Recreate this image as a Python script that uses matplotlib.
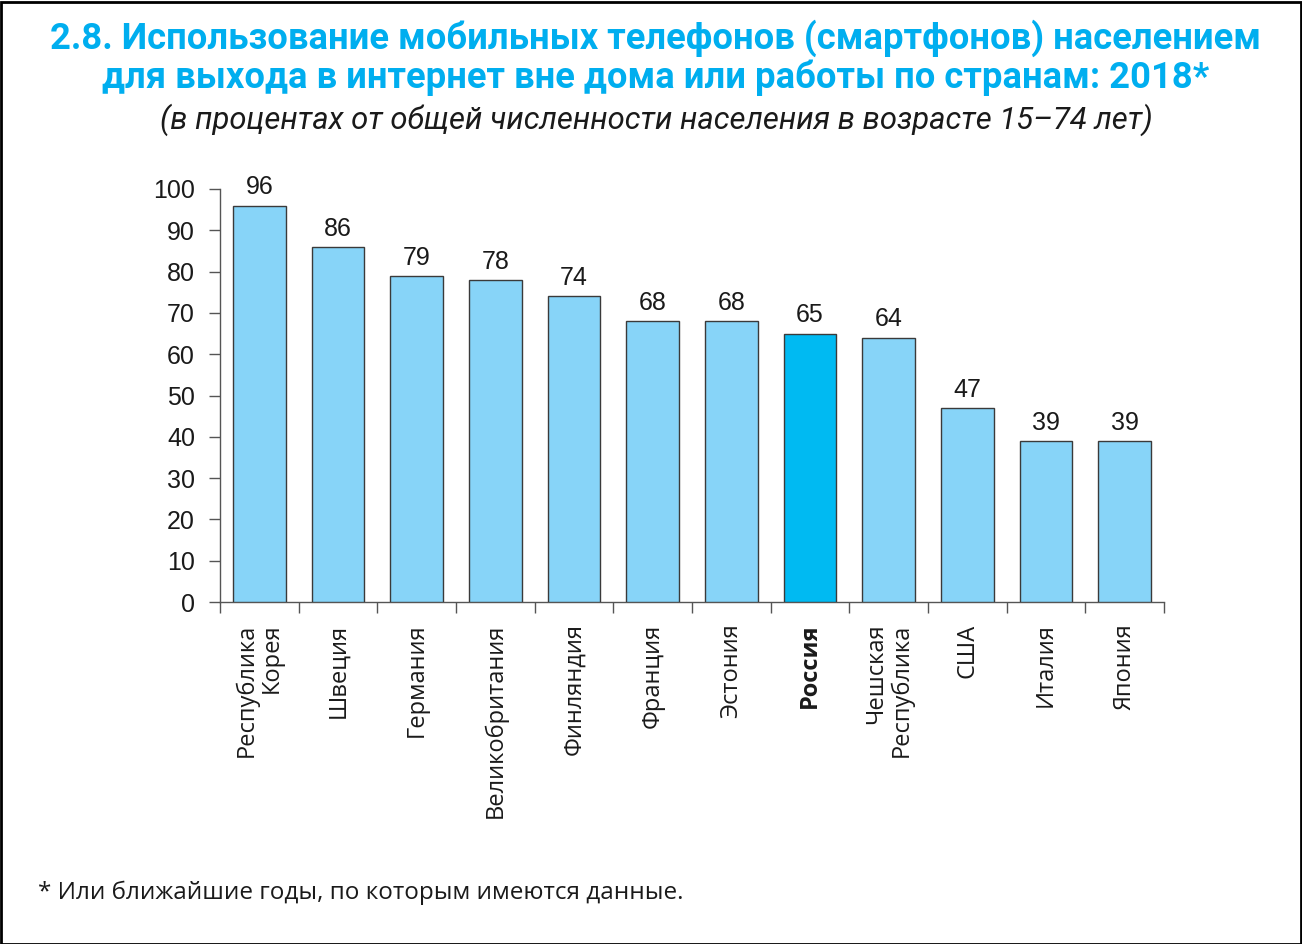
import matplotlib
matplotlib.use("Agg")
import matplotlib.pyplot as plt
from matplotlib.patches import Rectangle

categories = ["Республика\nКорея", "Швеция", "Германия", "Великобритания", "Финляндия",
              "Франция", "Эстония", "Россия", "Чешская\nРеспублика", "США", "Италия", "Япония"]
values = [96, 86, 79, 78, 74, 68, 68, 65, 64, 47, 39, 39]
highlight = "Россия"
yticks = [0, 10, 20, 30, 40, 50, 60, 70, 80, 90, 100]

title1 = "2.8. Использование мобильных телефонов (смартфонов) населением"
title2 = "для выхода в интернет вне дома или работы по странам: 2018*"
subtitle = "(в процентах от общей численности населения в возрасте 15–74 лет)"
footnote = "* Или ближайшие годы, по которым имеются данные."

W, H = 1302, 944
fig = plt.figure(figsize=(W / 100, H / 100), dpi=100)
fig.patch.set_facecolor("white")

ax = fig.add_axes([220 / W, 1 - 602 / H, (1164 - 220) / W, (602 - 189) / H])

light = "#87D4F8"
dark = "#00BAF2"
colors = [dark if c == highlight else light for c in categories]
x = list(range(len(categories)))
ax.bar(x, values, width=0.67, color=colors, edgecolor="#3a3a3a", linewidth=1.0, zorder=3)

ax.set_xlim(-0.5, len(categories) - 0.5)
ax.set_ylim(0, 100)
ax.set_yticks(yticks)
ax.set_yticklabels([str(t) for t in yticks], fontsize=18, family="Liberation Sans", color="#1a1a1a")
ax.tick_params(axis="y", direction="out", length=8, width=1, color="#555555", pad=10)

# x ticks at category boundaries
ax.set_xticks([i - 0.5 for i in range(len(categories) + 1)])
ax.set_xticklabels([])
ax.tick_params(axis="x", direction="out", length=8, width=1, color="#555555")

for s in ["top", "right"]:
    ax.spines[s].set_visible(False)
for s in ["left", "bottom"]:
    ax.spines[s].set_color("#555555")
    ax.spines[s].set_linewidth(1.0)

for i, (c, v) in enumerate(zip(categories, values)):
    ax.text(i, v + 1.5, str(v), ha="center", va="bottom", fontsize=18,
            family="Liberation Sans", color="#1a1a1a")
    ax.text(i, -5.2, c, rotation=90, ha="center", va="top", multialignment="right",
            fontsize=17, family=["Open Sans", "DejaVu Sans"],
            fontweight="bold" if c == highlight else "normal",
            color="#1a1a1a", linespacing=1.05, transform=ax.transData, clip_on=False)

tfam = ["Roboto", "DejaVu Sans"]
fig.text(656 / W, 1 - 38 / H, title1, ha="center", va="center", fontsize=26.2,
         fontweight="bold", family=tfam, color="#00AEEF")
fig.text(656 / W, 1 - 78 / H, title2, ha="center", va="center", fontsize=26.2,
         fontweight="bold", family=tfam, color="#00AEEF")
fig.text(656 / W, 1 - 120 / H, subtitle, ha="center", va="center", fontsize=22.3,
         style="italic", family=tfam, color="#1a1a1a")
fig.text(38 / W, 1 - 893 / H, footnote, ha="left", va="center", fontsize=17.5,
         family=["Open Sans", "DejaVu Sans"], color="#1a1a1a")

fig.add_artist(Rectangle((0.5 / W, 0.5 / H), 1 - 2 / W, 1 - 2 / H, transform=fig.transFigure,
                         fill=False, edgecolor="black", linewidth=2))

fig.savefig("out.png", dpi=100)
